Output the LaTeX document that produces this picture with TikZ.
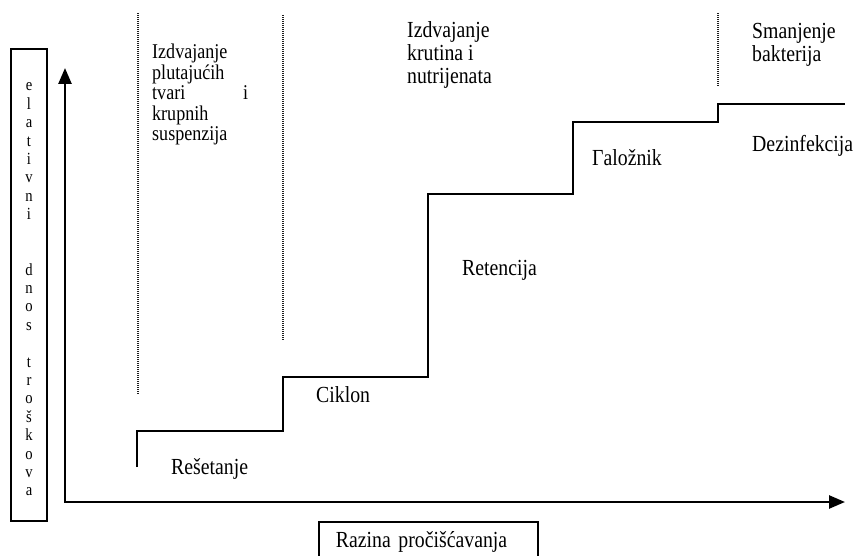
\documentclass[tikz,border=0pt]{standalone}
\usepackage{fontspec}
\setmainfont{Liberation Serif}[FakeStretch=0.86]
\usetikzlibrary{arrows.meta,positioning}
\definecolor{inkblack}{RGB}{0,0,0}
\definecolor{dotgray}{RGB}{30,30,30}
\tikzset{
  axisline/.style={line width=2.5pt,color=inkblack,
    {Triangle[length=16pt,width=13pt]}-{Triangle[length=16pt,width=13pt]}},
  stairs/.style={line width=2pt,color=inkblack},
  sepline/.style={line width=1.2pt,color=dotgray,dash pattern=on 1pt off 1pt},
  lbl/.style={font=\fontsize{23}{23}\selectfont,inner sep=0pt,anchor=base west},
  grouplbl/.style={font=\fontsize{21}{20.5}\selectfont,inner sep=0pt,
    anchor=north west,align=left},
  vletter/.style={font=\fontsize{17}{17}\selectfont,inner sep=0pt,anchor=base},
  boxlbl/.style={draw,line width=1.8pt,font=\fontsize{23}{23}\selectfont,
    minimum height=40pt,text width=185pt,align=left,inner xsep=17pt},
}
\begin{document}
\begin{tikzpicture}[x=1pt,y=-1pt]
\useasboundingbox (0,0) rectangle (854,556);
% axes
\coordinate (orig) at (65,502);
\coordinate (ytop) at (65,68);
\coordinate (xend) at (845,502);
\draw[axisline] (ytop) -- (orig) -- (xend);
% vertical axis title
\node[draw,line width=1.8pt,minimum width=36pt,minimum height=472pt,inner sep=0pt]
  (ylbl) at (29,285) {};
\foreach \c [count=\i] in {e,l,a,t,i,v,n,i,{},{},d,n,o,s,{},t,r,o,š,k,o,v,a}
  \node[vletter] (yl\i) at (29,{91+18.4*(\i-1)}) {\c};
% horizontal axis title
\node[boxlbl,anchor=north west] (xlbl) at (318,521) {Razina pročišćavanja};
% cost steps
\draw[stairs] (137,467) -- (137,431) -- (283,431) -- (283,377) -- (428,377)
  -- (428,194) -- (573,194) -- (573,122) -- (718,122) -- (718,104) -- (845,104);
% stage separators
\draw[sepline] (138,13) -- (138,395);
\draw[sepline] (283,15) -- (283,340);
\draw[sepline] (718,13) -- (718,87);
% stage groups
\node[grouplbl,text width=96pt] (grpA) at (152,44)
  {Izdvajanje\\plutajućih\\tvari\hfill i\\krupnih\\suspenzija};
\node[grouplbl,font=\fontsize{23}{23}\selectfont] (grpB) at (407,21.3)
  {Izdvajanje\\krutina i\\nutrijenata};
\node[grouplbl,font=\fontsize{23}{23}\selectfont] (grpC) at (752,23.3)
  {Smanjenje\\bakterija};
% processes
\node[lbl] (reset) at (171,474) {Rešetanje};
\node[lbl] (ciklon) at (316,402) {Ciklon};
\node[lbl] (reten) at (462,275) {Retencija};
\node[lbl] (talog) at (592,166) {Γaložnik};
\node[lbl] (dezinf) at (752,152) {Dezinfekcija};
\end{tikzpicture}
\end{document}
